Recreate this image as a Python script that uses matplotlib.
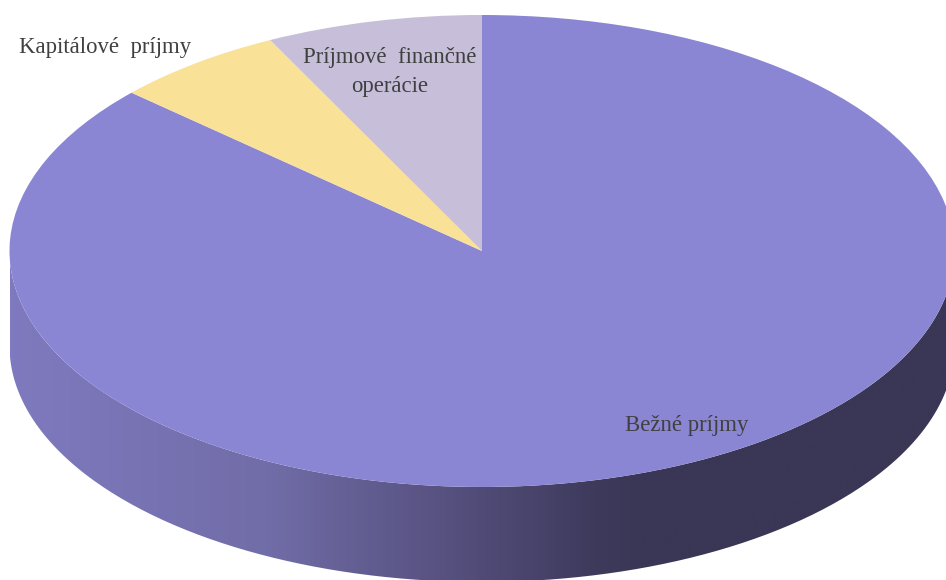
import numpy as np
import matplotlib
matplotlib.use('Agg')
import matplotlib.pyplot as plt
from matplotlib.colors import LinearSegmentedColormap
from matplotlib.patches import PathPatch
from matplotlib.path import Path

categories = ['Bežné príjmy', 'Kapitálové  príjmy', 'Príjmové  finančné\noperácie']
shares = [86.7, 5.9, 7.4]
colors = ['#8B86D3', '#FAE198', '#C7BED9']
side_stops = [0.0, 0.27, 0.42, 0.62, 0.67, 1.0]
side_colors = ['#7F7ABF', '#716DA8', '#5C5788', '#3E3A5C', '#3A3655', '#3A3655']

width, height = 946, 580
cx, cy = 482, 251
rx, ry = 472.5, 236
depth = 95 / ry
label_px = [(687, 425), (105, 47), (390, 72)]

plt.rcParams['font.family'] = ['Liberation Serif', 'DejaVu Serif']

fig = plt.figure(figsize=(width / 100, height / 100), dpi=100)
ax = fig.add_axes([0, 0, 1, 1])

x_range = (-cx / rx, (width - cx) / rx)
y_range = ((cy - height) / ry, cy / ry)

# side of the disc, gradient clipped to the lower rim
t = np.linspace(np.pi, 2 * np.pi, 300)
rim_x = np.concatenate([np.cos(t), np.cos(t[::-1])])
rim_y = np.concatenate([np.sin(t) - depth, np.sin(t[::-1])])
rim = PathPatch(Path(np.column_stack([rim_x, rim_y])), transform=ax.transData, fc='none', ec='none')
ax.add_patch(rim)
side_cmap = LinearSegmentedColormap.from_list('side', list(zip(side_stops, side_colors)))
grad = np.linspace(0, 1, 512).reshape(1, -1)
img = ax.imshow(grad, cmap=side_cmap, aspect='auto', extent=(-1, 1, -1 - depth, 0.1), zorder=1)
img.set_clip_path(rim)

wedges, _ = ax.pie(shares, colors=colors, startangle=90, counterclock=False,
                   wedgeprops={'linewidth': 0})
for w in wedges:
    w.set_zorder(2)

ax.set_aspect('auto')
ax.set_xlim(x_range)
ax.set_ylim(y_range)
ax.axis('off')

for name, (px, py) in zip(categories, label_px):
    fig.text(px / width, 1 - py / height, name, ha='center', va='center',
             fontsize=16.4, color='#404040', linespacing=1.45)

fig.savefig('out.png', dpi=100)
